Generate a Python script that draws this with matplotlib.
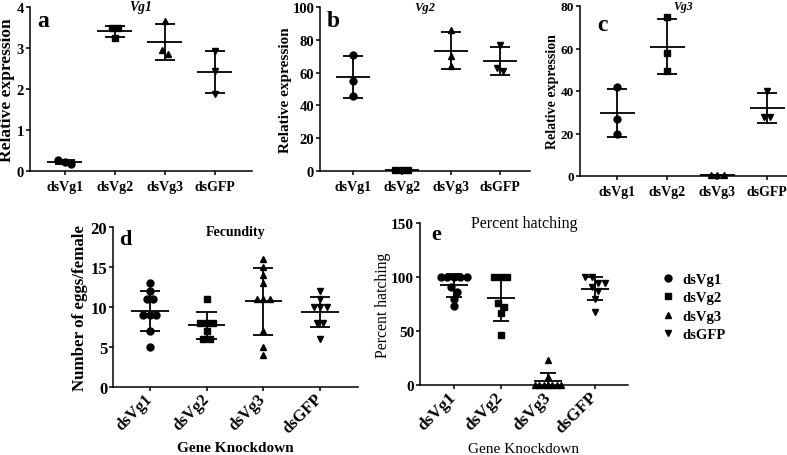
import numpy as np
import matplotlib.pyplot as plt
from matplotlib.lines import Line2D

plt.rcParams['font.family'] = ['Liberation Serif', 'DejaVu Serif']
plt.rcParams['axes.linewidth'] = 1.1
plt.rcParams['xtick.major.width'] = 1.1
plt.rcParams['ytick.major.width'] = 1.1
plt.rcParams['xtick.major.size'] = 3
plt.rcParams['ytick.major.size'] = 3
plt.rcParams['ytick.major.pad'] = 1.2

groups = ['dsVg1', 'dsVg2', 'dsVg3', 'dsGFP']
markers = ['o', 's', '^', 'v']

# relative expression (qPCR), 3 replicates per knockdown
vg1_expr = [[0.26, 0.17, 0.22], [3.48, 3.48, 3.25], [3.65, 2.85, 2.95], [2.92, 2.45, 1.88]]
vg2_expr = [[71, 55, 46], [0.8, 0.5, 0.8], [86, 70, 64], [77, 61, 63]]
vg3_expr = [[42, 27, 20], [75, 58, 49.5], [0.5, 0.3, 0.5], [40, 28, 28]]

# eggs per female
fecundity = [[13, 12, 11, 11, 9, 9, 9, 7, 5],
             [11, 8, 8, 8, 7, 6, 6],
             [16, 15, 14, 13, 11, 11, 11, 7, 5, 4],
             [12, 11, 10, 10, 10, 8, 8, 6]]

# percent hatching
hatching = [[100, 100, 100, 100, 100, 91, 86, 80, 73],
            [100, 100, 100, 76, 72, 67, 46],
            [23, 7, 0, 0, 0, 0, 0, 0, 0],
            [100, 100, 94, 94, 91, 87, 80, 68]]

W, H = 787, 456
fig = plt.figure(figsize=(W / 100, H / 100), dpi=100)


def add_ax(l, t, r, b):
    return fig.add_axes([l / W, 1 - b / H, (r - l) / W, (b - t) / H])


def spread(vals, ypx, xpx, d=6.5, maxw=26):
    # GraphPad style column scatter: points of about the same value go in a row
    vals = np.asarray(vals, float)
    order = np.argsort(-vals, kind='stable')
    rows = []
    for idx in order:
        if rows and (vals[rows[-1][0]] - vals[idx]) * ypx < d:
            rows[-1].append(idx)
        else:
            rows.append([idx])
    xs = np.zeros(len(vals))
    for row in rows:
        k = len(row)
        step = d if k < 2 else min(d, maxw / (k - 1))
        for j, idx in enumerate(row):
            xs[idx] = (j - (k - 1) / 2) * step / xpx
    return xs


def column_plot(ax, data, xlim, ylim, yticks, mean_w=0.33, cap_w=0.18):
    ax.set_xlim(xlim)
    ax.set_ylim(ylim)
    pos = ax.get_position()
    xpx = pos.width * W / (xlim[1] - xlim[0])
    ypx = pos.height * H / (ylim[1] - ylim[0])
    for i, vals in enumerate(data):
        xs = spread(vals, ypx, xpx)
        ax.plot(i + xs, vals, ls='none', marker=markers[i], color='black',
                ms=5, clip_on=False, zorder=3)
        m = np.mean(vals)
        s = np.std(vals, ddof=1)
        ax.hlines(m, i - mean_w, i + mean_w, color='black', lw=1.3)
        ax.vlines(i, m - s, m + s, color='black', lw=1.3)
        ax.hlines([m - s, m + s], i - cap_w, i + cap_w, color='black', lw=1.3)
    ax.set_yticks(yticks)
    ax.set_xticks(range(len(groups)))
    ax.spines['top'].set_visible(False)
    ax.spines['right'].set_visible(False)


# ---- top row: qPCR ----
top = [
    (add_ax(30, 8, 252, 172), vg1_expr, (-0.7, 3.74), (0, 4), [0, 1, 2, 3, 4], 'Vg1', 'a',
     (0.06, 0.915), 12.5, -0.068, 10.5, 9.8),
    (add_ax(320, 8, 530, 172), vg2_expr, (-0.67, 3.61), (0, 100), [0, 20, 40, 60, 80, 100], 'Vg2', 'b',
     (0.062, 0.915), 11, -0.133, 10.5, 9),
    (add_ax(580, 7, 787, 177), vg3_expr, (-0.74, 3.4), (0, 80), [0, 20, 40, 60, 80], 'Vg3', 'c',
     (0.11, 0.894), 10, -0.1, 9.5, 8.5),
]
for ax, data, xl, yl, yt, title, letter, lpos, ylfs, ylx, ytfs, tfs in top:
    column_plot(ax, data, xl, yl, yt, mean_w=0.35, cap_w=0.2)
    ax.set_xticklabels(groups, fontsize=10, fontweight='bold')
    for t in ax.get_yticklabels():
        t.set_fontsize(ytfs)
        t.set_fontweight('bold')
    ax.set_ylabel('Relative expression', fontsize=ylfs, fontweight='bold')
    ax.yaxis.set_label_coords(ylx, 0.5)
    ax.text(0.5, 1.0, title, transform=ax.transAxes, ha='center', va='center',
            fontsize=tfs, fontweight='bold', fontstyle='italic')
    ax.text(lpos[0], lpos[1], letter, transform=ax.transAxes, ha='center', va='center',
            fontsize=17, fontweight='bold')

# ---- d: fecundity ----
axd = add_ax(113, 228, 358, 388)
column_plot(axd, fecundity, (-0.65, 3.67), (0, 20), [0, 5, 10, 15, 20])
axd.set_xticklabels(groups, fontsize=12, fontweight='bold', rotation=45,
                    ha='right', va='center', rotation_mode='anchor')
for t in axd.get_yticklabels():
    t.set_fontsize(12)
    t.set_fontweight('bold')
axd.set_ylabel('Number of eggs/female', fontsize=12.2, fontweight='bold')
axd.yaxis.set_label_coords(-0.102, 0.5)
axd.set_xlabel('Gene Knockdown', fontsize=11, fontweight='bold', va='top')
axd.xaxis.set_label_coords(0.5, -0.34)
axd.text(0.5, 0.97, 'Fecundity', transform=axd.transAxes, ha='center', va='center',
         fontsize=10, fontweight='bold')
axd.text(0.05, 0.925, 'd', transform=axd.transAxes, ha='center', va='center',
         fontsize=16, fontweight='bold')

# ---- e: percent hatching ----
axe = add_ax(420, 224, 628, 386)
column_plot(axe, hatching, (-0.72, 3.7), (0, 150), [0, 50, 100, 150], mean_w=0.29, cap_w=0.17)
axe.set_xticklabels(groups, fontsize=12.5, fontweight='bold', rotation=45,
                    ha='right', va='center', rotation_mode='anchor')
for t in axe.get_yticklabels():
    t.set_fontsize(11)
    t.set_fontweight('bold')
axe.set_ylabel('Percent hatching', fontsize=11.3)
axe.yaxis.set_label_coords(-0.139, 0.5)
axe.set_xlabel('Gene Knockdown', fontsize=11, va='top')
axe.xaxis.set_label_coords(0.5, -0.35)
axe.text(0.5, 1.0, 'Percent hatching', transform=axe.transAxes, ha='center', va='center',
         fontsize=11.5)
axe.text(0.08, 0.93, 'e', transform=axe.transAxes, ha='center', va='center',
         fontsize=16, fontweight='bold')

handles = [Line2D([], [], ls='none', marker=m, color='black', ms=5) for m in markers]
fig.legend(handles, groups, loc='upper left', bbox_to_anchor=(655 / W, 1 - 268 / H),
           frameon=False, prop={'weight': 'bold', 'size': 10.5},
           handlelength=1.0, handletextpad=0.5, labelspacing=0.35, borderaxespad=0)

fig.savefig('out.png', dpi=100)
